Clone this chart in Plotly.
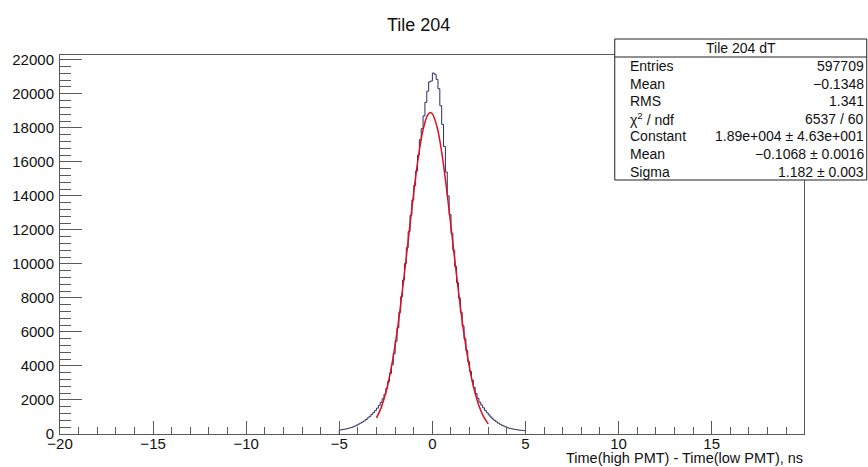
import numpy as np
import plotly.graph_objects as go

# ---------------- data ----------------
bin_width = 0.1
bin_lefts = np.round(np.arange(-5.0, 5.0 - 1e-9, bin_width), 2)  # 100 bins from -5 to 5

counts = [
    235, 255, 275, 290, 320, 350, 380, 420, 465, 520,
    580, 640, 700, 770, 850, 950, 1040, 1150, 1260, 1390,
    1520, 1680, 1860, 2070, 2330, 2680, 3080, 3560, 4080, 4720,
    5450, 6250, 7150, 8080, 9050, 10020, 10950, 11900, 12850, 13750,
    14600, 15450, 16400, 17300, 17950, 18700, 19500, 20150, 20700, 20750,
    21220, 21150, 20850, 20300, 19300, 18200, 16900, 15400, 14000, 12900,
    11800, 10800, 9850, 8900, 8000, 7150, 6350, 5600, 4900, 4250,
    3680, 3170, 2740, 2380, 2090, 1870, 1700, 1540, 1390, 1250,
    1120, 1000, 890, 800, 715, 640, 575, 515, 465, 420,
    365, 335, 310, 290, 270, 250, 235, 220, 210, 200,
]

fit_x = [-3.0, -2.75, -2.5, -2.25, -2.0, -1.75, -1.5, -1.25, -1.0, -0.75, -0.5,
         -0.25, -0.107, 0.0, 0.25, 0.5, 0.75, 1.0, 1.25, 1.5, 1.75, 2.0, 2.25,
         2.5, 2.75, 3.0]
fit_y = [946, 1551, 2435, 3650, 5240, 7190, 9440, 11840, 14210, 16300, 17880,
         18760, 18900, 18820, 18060, 16570, 14530, 12190, 9780, 7500, 5500, 3860,
         2590, 1660, 1018, 597]

x_tick_step = 5
y_tick_step = 2000

title_text = "Tile 204"
x_title = "Time(high PMT) - Time(low PMT), ns"
stats_title = "Tile 204 dT"
stats_labels = ["Entries", "Mean", "RMS", "χ<sup>2</sup> / ndf", "Constant", "Mean", "Sigma"]
stats_values = ["597709", "\u22120.1348", "1.341", "6537 / 60",
                "1.89e+004 \u00b1 4.63e+001", "\u22120.1068 \u00b1 0.0016", "1.182 \u00b1 0.003"]

# ---------------- layout geometry (pixels) ----------------
W, H = 868, 467
L, R, T, B = 57, 64, 55, 33
PW, PH = W - L - R, H - T - B


def px(xpix):
    return (xpix - L) / PW


def py(ypix):
    return (H - B - ypix) / PH


FONT = "Liberation Sans, Arial, Helvetica, sans-serif"
AXC = "#5a5a5a"

step_x = [-5.0] + list(bin_lefts) + [5.0]
step_y = [0] + counts + [0]

fig = go.Figure()
fig.add_trace(go.Scatter(x=step_x, y=step_y, mode="lines", line_shape="hv",
                         line=dict(color="#2b2b66", width=1), hoverinfo="skip",
                         showlegend=False))
fig.add_trace(go.Scatter(x=fit_x, y=fit_y, mode="lines", line_shape="spline",
                         line=dict(color="#dd1020", width=1.5), hoverinfo="skip",
                         showlegend=False))

fig.update_layout(
    width=W, height=H,
    margin=dict(l=L, r=R, t=T, b=B, pad=0),
    paper_bgcolor="white", plot_bgcolor="white",
    font=dict(family=FONT, size=15, color="#111"),
    showlegend=False,
)
fig.update_xaxes(range=[-20, 19.96], tickmode="linear", tick0=-20, dtick=x_tick_step,
                 ticks="inside", ticklen=13, tickcolor=AXC, tickwidth=1,
                 showline=True, linecolor=AXC, linewidth=1, mirror=True,
                 showgrid=False, zeroline=False, tickfont=dict(size=15),
                 ticklabelstandoff=-4,
                 minor=dict(ticks="inside", ticklen=7, dtick=1, tickcolor=AXC, showgrid=False))
fig.update_yaxes(range=[0, 22280], tickmode="linear", tick0=0, dtick=y_tick_step,
                 tickformat="d",
                 ticks="inside", ticklen=22, tickcolor=AXC, tickwidth=1,
                 showline=True, linecolor=AXC, linewidth=1, mirror=True,
                 showgrid=False, zeroline=False, tickfont=dict(size=15),
                 ticklabelstandoff=2,
                 minor=dict(ticks="inside", ticklen=11, dtick=400, tickcolor=AXC, showgrid=False))

ann = []
ann.append(dict(text=title_text, x=px(417), y=py(25), xref="paper", yref="paper",
                xanchor="center", yanchor="middle", showarrow=False,
                font=dict(size=18, color="#111", family=FONT)))
ann.append(dict(text=x_title, x=px(805), y=py(458), xref="paper", yref="paper",
                xanchor="right", yanchor="middle", showarrow=False,
                font=dict(size=14.5, color="#111", family=FONT)))

# stats box
box_l, box_r, box_t, box_b, hdr = 614, 867, 39, 180, 57
shapes = [
    dict(type="rect", xref="paper", yref="paper", x0=px(box_l), x1=px(box_r),
         y0=py(box_b), y1=py(box_t), line=dict(color="#222", width=1),
         fillcolor="white", layer="above"),
    dict(type="line", xref="paper", yref="paper", x0=px(box_l), x1=px(box_r),
         y0=py(hdr), y1=py(hdr), line=dict(color="#222", width=1), layer="above"),
]
ann.append(dict(text=stats_title, x=px((box_l + box_r) / 2), y=py(48), xref="paper", yref="paper",
                xanchor="center", yanchor="middle", showarrow=False,
                font=dict(size=14, color="#111", family=FONT)))
row0, drow = 66, 17.6
for i, (lab, val) in enumerate(zip(stats_labels, stats_values)):
    yy = py(row0 + i * drow)
    ann.append(dict(text=lab, x=px(627), y=yy, xref="paper", yref="paper",
                    xanchor="left", yanchor="middle", showarrow=False,
                    font=dict(size=14, color="#111", family=FONT)))
    ann.append(dict(text=val, x=px(866), y=yy, xref="paper", yref="paper",
                    xanchor="right", yanchor="middle", showarrow=False,
                    font=dict(size=14, color="#111", family=FONT)))

fig.update_layout(annotations=ann, shapes=shapes)
fig.write_html("out.html", config={"displayModeBar": False},
               post_script="document.body.style.margin='0';document.body.style.padding='0';")
